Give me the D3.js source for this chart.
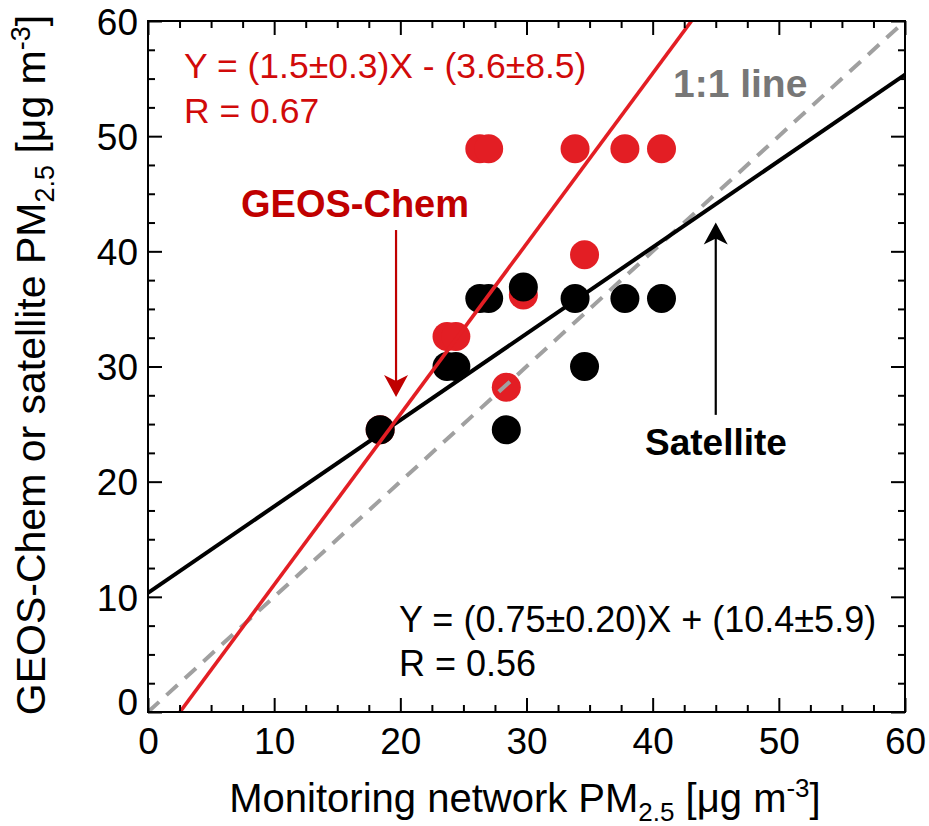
<!DOCTYPE html>
<html>
<head>
<meta charset="utf-8">
<script src="https://cdn.jsdelivr.net/npm/d3@7"></script>
<style>
  body { margin: 0; background: #fff; }
  text { font-family: "Liberation Sans", Arial, Helvetica, sans-serif; }
</style>
</head>
<body>
<div id="chart"></div>
<script>
// data (one value per monitoring site)
var monitor   = [18.4, 23.7, 24.4, 26.3, 27.0, 28.4, 29.75, 33.85, 34.6, 37.8, 40.7];
var satellite = [24.5, 30.0, 30.0, 35.9, 35.9, 24.5, 36.9, 35.9, 30.0, 35.9, 35.9];
var geosChem  = [24.5, 32.6, 32.6, 48.9, 48.9, 28.2, 36.2, 48.9, 39.7, 48.9, 48.9];

// regression lines [slope, intercept]
var geosFit = [1.48, -3.75];
var satFit  = [0.75, 10.35];

var majorTicks = [0, 10, 20, 30, 40, 50, 60];
var minorTicks = d3.range(0, 60.1, 2.5).filter(function(d) { return d % 10 !== 0; });

var width = 929, height = 826;
var margin = {top: 21, right: 24, bottom: 114, left: 148};
var w = width - margin.left - margin.right,
    h = height - margin.top - margin.bottom;

var red = "#e31e24", darkRed = "#c00000";

var svg = d3.select("#chart").append("svg")
    .attr("width", width)
    .attr("height", height);

var x = d3.scaleLinear().domain([0, 60]).range([margin.left, margin.left + w]);
var y = d3.scaleLinear().domain([0, 60]).range([margin.top + h, margin.top]);

svg.append("clipPath").attr("id", "plot")
  .append("rect")
    .attr("x", margin.left).attr("y", margin.top)
    .attr("width", w).attr("height", h);

// points: lower point first so the higher one sits on top (satellite wins ties)
var pts = [];
monitor.forEach(function(m, i) {
  pts.push({x: m, y: geosChem[i], c: red, k: 0});
  pts.push({x: m, y: satellite[i], c: "#000", k: 1});
});
pts.sort(function(a, b) { return (a.y - b.y) || (a.k - b.k); });

svg.append("g").selectAll("circle")
    .data(pts)
  .enter().append("circle")
    .attr("cx", function(d) { return x(d.x); })
    .attr("cy", function(d) { return y(d.y); })
    .attr("r", 14.5)
    .style("fill", function(d) { return d.c; });

// lines
var lines = svg.append("g").attr("clip-path", "url(#plot)");
lines.append("line")
    .attr("x1", x(0)).attr("y1", y(0))
    .attr("x2", x(60)).attr("y2", y(60))
    .style("stroke", "#a0a0a0").style("stroke-width", 4)
    .style("stroke-dasharray", "15,10");

function fitLine(f, col, sw) {
  lines.append("line")
      .attr("x1", x(-10)).attr("y1", y(f[0] * -10 + f[1]))
      .attr("x2", x(70)).attr("y2", y(f[0] * 70 + f[1]))
      .style("stroke", col).style("stroke-width", sw);
}
fitLine(satFit, "#000", 4);
fitLine(geosFit, red, 3.6);

// axes with inward ticks on all four sides
function addAxis(gen, tr, vals, size, labels) {
  var g = svg.append("g")
      .attr("transform", tr)
      .call(gen.tickValues(vals).tickSize(-size).tickPadding(0)
        .tickFormat(labels ? d3.format("d") : ""));
  g.select(".domain").remove();
  g.selectAll(".tick line").style("stroke", "#000").style("stroke-width", 2);
  return g;
}
var xb = addAxis(d3.axisBottom(x), "translate(0," + y(0) + ")", majorTicks, 14, true);
addAxis(d3.axisBottom(x), "translate(0," + y(0) + ")", minorTicks, 7, false);
addAxis(d3.axisTop(x), "translate(0," + y(60) + ")", majorTicks, 14, false);
addAxis(d3.axisTop(x), "translate(0," + y(60) + ")", minorTicks, 7, false);
var yl = addAxis(d3.axisLeft(y), "translate(" + x(0) + ",0)", majorTicks, 14, true);
addAxis(d3.axisLeft(y), "translate(" + x(0) + ",0)", minorTicks, 7, false);
addAxis(d3.axisRight(y), "translate(" + x(60) + ",0)", majorTicks, 14, false);
addAxis(d3.axisRight(y), "translate(" + x(60) + ",0)", minorTicks, 7, false);

xb.selectAll(".tick text")
    .attr("y", 42).attr("dy", 0)
    .style("font-size", "37px").style("fill", "#000");
yl.selectAll(".tick text")
    .attr("x", -10).attr("dy", "0.36em")
    .style("font-size", "37px").style("fill", "#000");
yl.selectAll(".tick text").filter(function(d) { return d === 0; })
    .attr("dy", "0.08em");

svg.append("rect")
    .attr("x", margin.left).attr("y", margin.top)
    .attr("width", w).attr("height", h)
    .style("fill", "none").style("stroke", "#000").style("stroke-width", 2);

// axis titles
var xt = svg.append("text")
    .attr("x", 525).attr("y", 812)
    .attr("text-anchor", "middle")
    .style("font-size", "40px");
xt.append("tspan").text("Monitoring network PM");
xt.append("tspan").attr("dy", 9).style("font-size", "26px").text("2.5");
xt.append("tspan").attr("dy", -9).text(" [\u03bcg m");
xt.append("tspan").attr("dy", -15).style("font-size", "26px").text("-3");
xt.append("tspan").attr("dy", 15).text("]");

var yt = svg.append("text")
    .attr("transform", "translate(45,365) rotate(-90)")
    .attr("text-anchor", "middle")
    .style("font-size", "41px");
yt.append("tspan").text("GEOS-Chem or satellite PM");
yt.append("tspan").attr("dy", 9).style("font-size", "27px").text("2.5");
yt.append("tspan").attr("dy", -9).text(" [\u03bcg m");
yt.append("tspan").attr("dy", -15).style("font-size", "27px").text("-3");
yt.append("tspan").attr("dy", 15).text("]");

// annotations
svg.append("text").attr("x", 184).attr("y", 78)
    .style("font-size", "35.5px").style("fill", "#d10a0a")
    .text("Y = (1.5\u00b10.3)X - (3.6\u00b18.5)");
svg.append("text").attr("x", 184).attr("y", 123)
    .style("font-size", "35.5px").style("fill", "#d10a0a")
    .text("R = 0.67");

svg.append("text").attr("x", 399).attr("y", 632)
    .style("font-size", "36px").style("fill", "#000")
    .text("Y = (0.75\u00b10.20)X + (10.4\u00b15.9)");
svg.append("text").attr("x", 399).attr("y", 676)
    .style("font-size", "36px").style("fill", "#000")
    .text("R = 0.56");

svg.append("text").attr("x", 673).attr("y", 97)
    .style("font-size", "39px").style("font-weight", "bold").style("fill", "#777")
    .text("1:1 line");

svg.append("text").attr("x", 241).attr("y", 217)
    .style("font-size", "38px").style("font-weight", "bold").style("fill", darkRed)
    .text("GEOS-Chem");

svg.append("text").attr("x", 645).attr("y", 455)
    .style("font-size", "37px").style("font-weight", "bold").style("fill", "#000")
    .text("Satellite");

// arrows, in data coordinates
function arrow(ax, y0, y1, col) {
  var px = x(ax), p0 = y(y0), p1 = y(y1);
  var dir = p1 > p0 ? 1 : -1;
  svg.append("line")
      .attr("x1", px).attr("y1", p0)
      .attr("x2", px).attr("y2", p1 - dir * 12)
      .style("stroke", col).style("stroke-width", 2.2);
  svg.append("path")
      .attr("d", "M" + px + "," + p1 +
        "L" + (px - 12) + "," + (p1 - dir * 22) +
        "L" + px + "," + (p1 - dir * 16) +
        "L" + (px + 12) + "," + (p1 - dir * 22) + "Z")
      .style("fill", col);
}
arrow(19.66, 41.85, 27.35, darkRed);
arrow(45.0, 25.8, 42.5, "#000");
</script>
</body>
</html>
